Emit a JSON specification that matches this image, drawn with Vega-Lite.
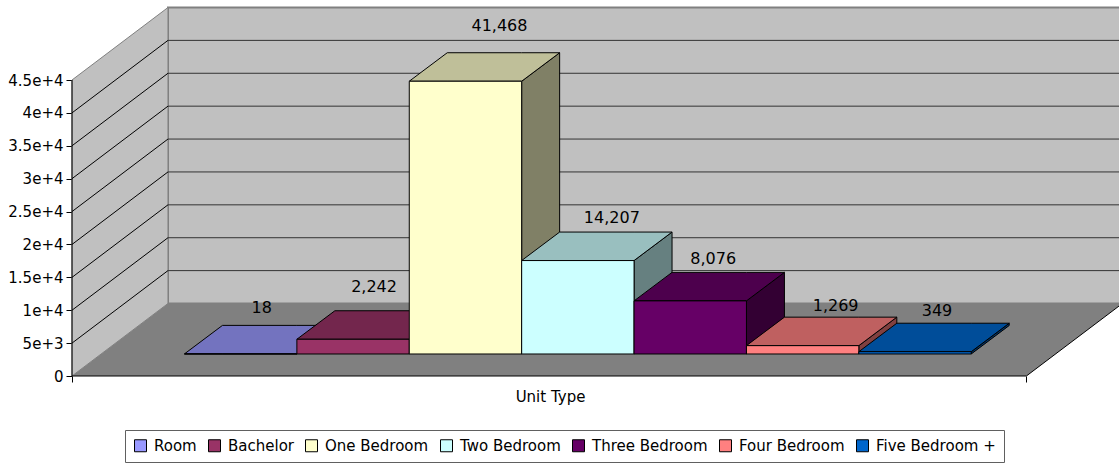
{
"$schema":"https://vega.github.io/schema/vega-lite/v6.json",
"width":1047,"height":368,"autosize":"none",
"padding":{"left":72,"top":8,"right":0,"bottom":88},
"background":"white",
"config":{"view":{"stroke":null},"font":"DejaVu Sans"},
"params":[
{"name":"xL","value":-1.0009},{"name":"xR","value":7.491},{"name":"wdx","value":0.854},{"name":"wdy","value":11022},
{"name":"dx","value":0.338},{"name":"dy","value":4332},{"name":"base","value":3345},{"name":"u","value":0.0065778}
],
"data":{"values":[
{"unit":"Room","value":18},{"unit":"Bachelor","value":2242},{"unit":"One Bedroom","value":41468},{"unit":"Two Bedroom","value":14207},{"unit":"Three Bedroom","value":8076},{"unit":"Four Bedroom","value":1269},{"unit":"Five Bedroom +","value":349}
]},
"encoding":{
"x":{"field":"x","type":"quantitative","scale":{"domain":[-1.0009,8.3149],"nice":false,"zero":false},
 "axis":{"values":[-1.0009,7.491],"labels":false,"domain":false,"grid":false,"tickSize":6,"tickColor":"black","title":"Unit Type","titleFont":"DejaVu Sans","titleFontSize":15,"titleFontWeight":"normal","titleColor":"black","titleX":478,"titleY":20,"titleBaseline":"middle","titleAnchor":"start","titleAlign":"center"}},
"y":{"field":"y","type":"quantitative","stack":null,"scale":{"domain":[0,55946],"nice":false,"zero":false},
 "axis":{"values":[0,5000,10000,15000,20000,25000,30000,35000,40000,45000],"format":",","domain":false,"grid":false,"tickSize":6,"tickColor":"black","labelFont":"DejaVu Sans","labelFontSize":15,"labelColor":"black","labelPadding":3,"title":null}}
},
"layer":[
{"data":{"values":[{"k":0}]},
 "transform":[{"calculate":"xL+wdx","as":"x"},{"calculate":"xL+wdx+10","as":"x2"},{"calculate":"wdy","as":"y"},{"calculate":"wdy+45000","as":"y2"}],
 "mark":{"type":"rect","fill":"#C0C0C0","stroke":"#808080","strokeWidth":2},
 "encoding":{"x2":{"field":"x2"},"y2":{"field":"y2"}}},
{"data":{"values":[{"k":0},{"k":1}]},
 "transform":[{"calculate":"xL+datum.k*wdx","as":"x"},{"calculate":"datum.k*wdy","as":"y"},{"calculate":"45000+datum.k*wdy","as":"y2"}],
 "mark":{"type":"area","orient":"vertical","fill":"#C0C0C0","stroke":"#808080","strokeWidth":1},
 "encoding":{"y2":{"field":"y2"}}},
{"data":{"values":[{"k":0},{"k":1},{"k":2},{"k":3}]},
 "transform":[{"calculate":"[xL,xL+wdx,xR,xR+wdx][datum.k]","as":"x"},{"calculate":"[0,0,0,wdy][datum.k]","as":"y"},{"calculate":"[0,wdy,wdy,wdy][datum.k]","as":"y2"}],
 "mark":{"type":"area","orient":"vertical","fill":"#808080","clip":true},
 "encoding":{"y2":{"field":"y2"}}},
{"data":{"values":[{"tick":5000},{"tick":10000},{"tick":15000},{"tick":20000},{"tick":25000},{"tick":30000},{"tick":35000},{"tick":40000}]},
 "transform":[{"calculate":"xL+wdx","as":"x"},{"calculate":"xL+wdx+10","as":"x2"},{"calculate":"datum.tick+wdy","as":"y"},{"calculate":"datum.tick+wdy","as":"y2"}],
 "mark":{"type":"rule","color":"#333333","strokeWidth":1},
 "encoding":{"x2":{"field":"x2"},"y2":{"field":"y2"}}},
{"data":{"values":[{"tick":5000},{"tick":10000},{"tick":15000},{"tick":20000},{"tick":25000},{"tick":30000},{"tick":35000},{"tick":40000}]},
 "transform":[{"calculate":"xL","as":"x"},{"calculate":"xL+wdx","as":"x2"},{"calculate":"datum.tick","as":"y"},{"calculate":"datum.tick+wdy","as":"y2"}],
 "mark":{"type":"rule","color":"black","strokeWidth":1},
 "encoding":{"x2":{"field":"x2"},"y2":{"field":"y2"}}},
{"data":{"values":[{"k":0},{"k":1},{"k":2}]},
 "transform":[{"calculate":"[xL,xR,xL][datum.k]","as":"x"},{"calculate":"[xR,xR+wdx,xL][datum.k]","as":"x2"},{"calculate":"0","as":"y"},{"calculate":"[0,wdy,45000][datum.k]","as":"y2"}],
 "mark":{"type":"rule","color":"black","strokeWidth":1},
 "encoding":{"x2":{"field":"x2"},"y2":{"field":"y2"}}},
{"transform":[{"window":[{"op":"row_number","as":"n"}]},{"calculate":"datum.n-1","as":"i"},{"calculate":"[0,1]","as":"k"},{"flatten":["k"]},
  {"calculate":"datum.i+1+datum.k*dx","as":"x"},{"calculate":"base+datum.k*dy","as":"y"},{"calculate":"base+datum.value+datum.k*dy","as":"y2"}],
 "mark":{"type":"area","orient":"vertical","stroke":"black","strokeWidth":1},
 "encoding":{"y2":{"field":"y2"},"fill":{"field":"unit","type":"nominal","legend":null,
  "scale":{"domain":["Room","Bachelor","One Bedroom","Two Bedroom","Three Bedroom","Four Bedroom","Five Bedroom +"],"range":["#4D4D80","#4D1A33","#808066","#668080","#330033","#804040","#003366"]}}}},
{"transform":[{"window":[{"op":"row_number","as":"n"}]},{"calculate":"datum.n-1","as":"i"},{"calculate":"[0,1,2,3]","as":"k"},{"flatten":["k"]},
  {"calculate":"datum.i+[0,dx,1,1+dx][datum.k]","as":"x"},{"calculate":"base+datum.value+[0,0,0,dy][datum.k]","as":"y"},{"calculate":"base+datum.value+[0,dy,dy,dy][datum.k]","as":"y2"}],
 "mark":{"type":"area","orient":"vertical","stroke":"black","strokeWidth":1},
 "encoding":{"y2":{"field":"y2"},"fill":{"field":"unit","type":"nominal","legend":null,
  "scale":{"domain":["Room","Bachelor","One Bedroom","Two Bedroom","Three Bedroom","Four Bedroom","Five Bedroom +"],"range":["#7373BF","#73264D","#BFBF99","#99BFBF","#4D004D","#BF6060","#004D99"]}}}},
{"transform":[{"window":[{"op":"row_number","as":"n"}]},{"calculate":"datum.n-1","as":"i"},
  {"calculate":"datum.i","as":"x"},{"calculate":"datum.i+1","as":"x2"},{"calculate":"base","as":"y"},{"calculate":"base+datum.value","as":"y2"}],
 "mark":{"type":"rect","stroke":"black","strokeWidth":1},
 "encoding":{"x2":{"field":"x2"},"y2":{"field":"y2"},"fill":{"field":"unit","type":"nominal",
  "scale":{"domain":["Room","Bachelor","One Bedroom","Two Bedroom","Three Bedroom","Four Bedroom","Five Bedroom +"],"range":["#9999FF","#993366","#FFFFCC","#CCFFFF","#660066","#FF8080","#0066CC"]},
  "legend":{"orient":"none","legendX":53,"legendY":422,"direction":"horizontal","columns":7,"title":null,"symbolType":"square","symbolSize":144,"symbolStrokeColor":"black","symbolStrokeWidth":1,"labelFont":"DejaVu Sans","labelFontSize":15,"labelColor":"black","labelOffset":6,"columnPadding":9,"padding":8,"fillColor":"white","strokeColor":"#606060","labelLimit":300}}}},
{"transform":[{"window":[{"op":"row_number","as":"n"}]},{"calculate":"datum.n-1","as":"i"},
  {"calculate":"datum.i+0.5+[21,21,34,34,23,33,22][datum.i]/112.4","as":"x"},
  {"calculate":"base+datum.value+dy+[17.5,24,27,14,13,11,12][datum.i]/u","as":"y"}],
 "mark":{"type":"text","font":"DejaVu Sans","fontSize":16,"color":"black","baseline":"middle","align":"center"},
 "encoding":{"text":{"field":"value","type":"quantitative","format":","}}}
],
"resolve":{"scale":{"fill":"independent"}}
}
